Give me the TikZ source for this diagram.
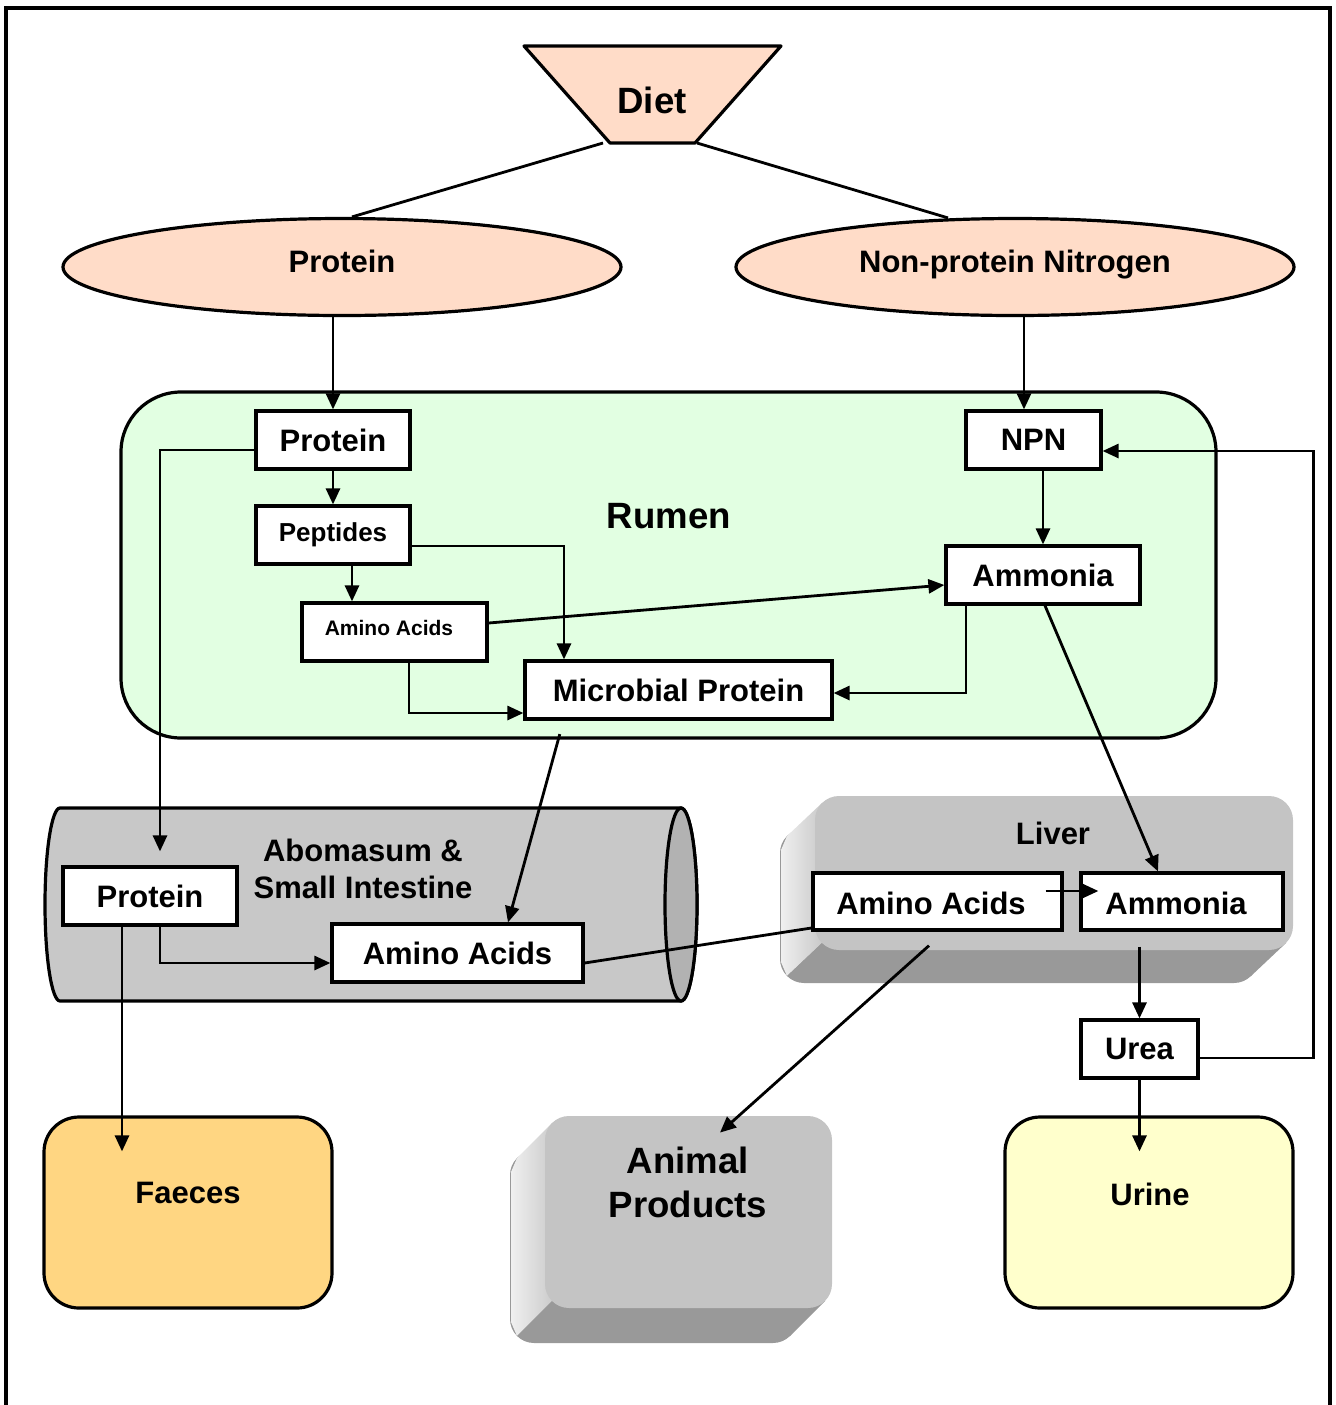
\documentclass[tikz,border=0pt]{standalone}
\usepackage{fontspec}
\setmainfont{Liberation Sans}
\usepackage{xcolor}
\usepackage{tikz}
\usetikzlibrary{arrows.meta,positioning,shapes.geometric,calc}

\definecolor{peach}{RGB}{255,220,200}
\definecolor{rumengreen}{RGB}{226,255,226}
\definecolor{tubegray}{RGB}{200,200,200}
\definecolor{capgray}{RGB}{178,178,178}
\definecolor{facegray}{RGB}{196,196,196}
\definecolor{darkgray}{RGB}{153,153,153}
\definecolor{faecesbg}{RGB}{255,214,130}
\definecolor{urinebg}{RGB}{255,255,204}

\begin{document}
\begin{tikzpicture}[
    x=0.5pt, y=-0.5pt,
    every node/.style={font=\bfseries\fontsize{15.5}{18.5}\selectfont},
    big/.style={font=\bfseries\fontsize{18.3}{22}\selectfont},
    box/.style={draw, line width=1.6pt, fill=white, minimum height=29pt, inner sep=0pt},
    blob/.style={ellipse, draw, line width=1.6pt, fill=peach, minimum width=279pt, minimum height=48.5pt, text height=0.73em, text depth=0.21em},
    sink/.style={draw, line width=1.6pt, rounded corners=17.5pt, minimum width=144pt, minimum height=95.5pt},
    face/.style={fill=facegray, rounded corners=12pt, inner sep=0pt},
    arr/.style={-{Triangle[length=8pt,width=7pt]}, line width=1.4pt},
    conn/.style={line width=1.4pt},
  ]
  \useasboundingbox (0,0) rectangle (1336,1405);

  % Frame
  \draw[line width=2pt] (6,1405) -- (6,8) -- (1330,8) -- (1330,1405);

  % Diet and its two parts
  \draw[line width=1.6pt, fill=peach, line join=round] (524,46) -- (781,46) -- (695,143) -- (610,143) -- cycle;
  \node[big] (diet) at (652,100) {Diet};
  \coordinate (dietL) at (603,143);
  \coordinate (dietR) at (697,143);
  \node[blob] (protEll) at (342,267) {Protein};
  \node[blob] (npnEll) at (1015,267) {Non-protein Nitrogen};

  % Rumen
  \node[draw, line width=1.6pt, fill=rumengreen, rounded corners=30pt, minimum width=547.5pt, minimum height=173pt] (rumen) at (668.5,565) {};
  \node[big] (rumenLbl) at (669,516) {Rumen};
  \node[box, minimum width=77pt] (rProt) at (333,440) {Protein};
  \node[box, minimum width=77pt, font=\bfseries\fontsize{13}{15}\selectfont] (pept) at (333,535) {Peptides};
  \node[box, minimum width=92.5pt] (rAA) at (394.5,632) {};
  \node[font=\bfseries\fontsize{10.5}{12}\selectfont] (rAALbl) at (389,628) {Amino Acids};
  \node[box, minimum width=153.5pt] (micro) at (678.5,690) {Microbial Protein};
  \node[box, minimum width=67.5pt] (npn) at (1033.5,440) {NPN};
  \node[box, minimum width=97pt] (rAmm) at (1043,575) {Ammonia};

  % Abomasum & small intestine
  \draw[line width=1.6pt, fill=tubegray] (681,808) -- (60,808)
    arc[start angle=-90, end angle=-270, x radius=15, y radius=96.5] -- (681,1001)
    arc[start angle=90, end angle=-90, x radius=16, y radius=96.5] -- cycle;
  \draw[line width=1.6pt, fill=capgray] (681,904.5) ellipse [x radius=16, y radius=96.5];
  \node[align=center] (aboLbl) at (363,869) {Abomasum \&\\Small Intestine};
  \node[box, minimum width=87pt] (aProt) at (150,896) {Protein};
  \node[box, minimum width=125.5pt] (aAA) at (457.5,953) {Amino Acids};

  % Liver
  \fill[darkgray, rounded corners=12pt] (780,829) rectangle (1258,983);
  \shade[left color=gray!12, right color=gray!42] (822,803) -- (787,836) -- (781,850) -- (781,962) -- (787,976) -- (822,943) -- cycle;
  \fill[darkgray] (822,943) -- (1286,943) -- (1251,976) -- (787,976) -- cycle;
  \node[face, minimum width=239pt, minimum height=77pt] (liver) at (1054,873) {};
  \node (liverLbl) at (1053,833) {Liver};
  \node[box, minimum width=124.5pt, minimum height=28.5pt] (lAA) at (937.5,901.5) {};
  \node (lAALbl) at (931,903) {Amino Acids};
  \node[box, minimum width=101pt, minimum height=28.5pt] (lAmm) at (1182,901.5) {};
  \node (lAmmLbl) at (1176,903) {Ammonia};
  \node[box, minimum width=58.5pt] (urea) at (1139.5,1049) {Urea};

  % Outputs
  \node[sink, fill=faecesbg] (faeces) at (188,1212.5) {};
  \node (faecesLbl) at (188,1193) {Faeces};
  \fill[darkgray, rounded corners=12pt] (510,1151) rectangle (797,1343);
  \shade[left color=gray!12, right color=gray!40] (552,1123) -- (517,1158) -- (511,1172) -- (511,1322) -- (517,1336) -- (552,1301) -- cycle;
  \fill[darkgray] (552,1301) -- (825,1301) -- (790,1336) -- (517,1336) -- cycle;
  \node[face, minimum width=143.5pt, minimum height=96pt] (prod) at (688.5,1212) {};
  \node[big, align=center] (prodLbl) at (688,1182) {Animal\\Products};
  \node[sink, fill=urinebg] (urine) at (1149,1212.5) {};
  \node (urineLbl) at (1150,1194) {Urine};

  % Arrows
  \draw[conn] (dietL) -- ($(protEll.north)+(10,0)$);
  \draw[conn] (dietR) -- ($(npnEll.north)+(-67,1)$);
  \draw[arr] (rProt.north |- protEll.south) -- (rProt.north);
  \draw[arr] ([xshift=-4.75pt]npn.north |- npnEll.south) -- ([xshift=-4.75pt]npn.north);
  \draw[arr] (rProt) -- (pept);
  \draw[arr] ([xshift=9.5pt]pept.south) -- ([xshift=9.5pt]pept.south |- rAA.north);
  \draw[arr] ([yshift=-5.5pt]pept.east) -| ([xshift=-57.25pt]micro.north);
  \draw[arr] ([yshift=4.5pt]rAA.east) -- ([yshift=-5pt]rAmm.west);
  \draw[arr] ([xshift=7.25pt]rAA.south) |- ([yshift=-11.5pt]micro.west);
  \draw[arr] (rAmm.north |- npn.south) -- (rAmm.north);
  \draw[arr] ([xshift=-38.5pt]rAmm.south) |- ([yshift=-1.5pt]micro.east);
  \draw[arr, shorten >=7pt] ([yshift=-5pt]rProt.west) -| ([xshift=5pt]aProt.north);
  \draw[arr, shorten <=7pt] ([xshift=-57.5pt]micro.south) -- ([xshift=25.25pt]aAA.north);
  \draw[arr] ([xshift=5pt]aProt.south) |- ([yshift=-5pt]aAA.west);
  \draw[arr, shorten >=-18pt] ([xshift=-14pt]aProt.south) -- ([xshift=-14pt]aProt.south |- faeces.north);
  \draw[conn] ([yshift=-5pt]aAA.east) -- ([yshift=-13.25pt]lAA.west);
  \draw[arr] ([xshift=1pt]rAmm.south) -- ([xshift=-12pt]lAmm.north);
  \draw[arr] ([xshift=-9pt, yshift=5.25pt]lAA.east) -- ([xshift=9.5pt, yshift=5.25pt]lAmm.west);
  \draw[arr, shorten <=7.5pt] (urea.north |- lAmm.south) -- (urea.north);
  \draw[arr] ([yshift=-4.5pt]urea.east) -- ++(114,0) |- ([yshift=-5.5pt]npn.east);
  \draw[arr, shorten >=-18pt] (urea.south) -- (urea.south |- urine.north);
  \draw[arr] ([xshift=-4.25pt, yshift=-7pt]lAA.south) -- ($(prod.north)+(31.5,17)$);

\end{tikzpicture}
\end{document}
